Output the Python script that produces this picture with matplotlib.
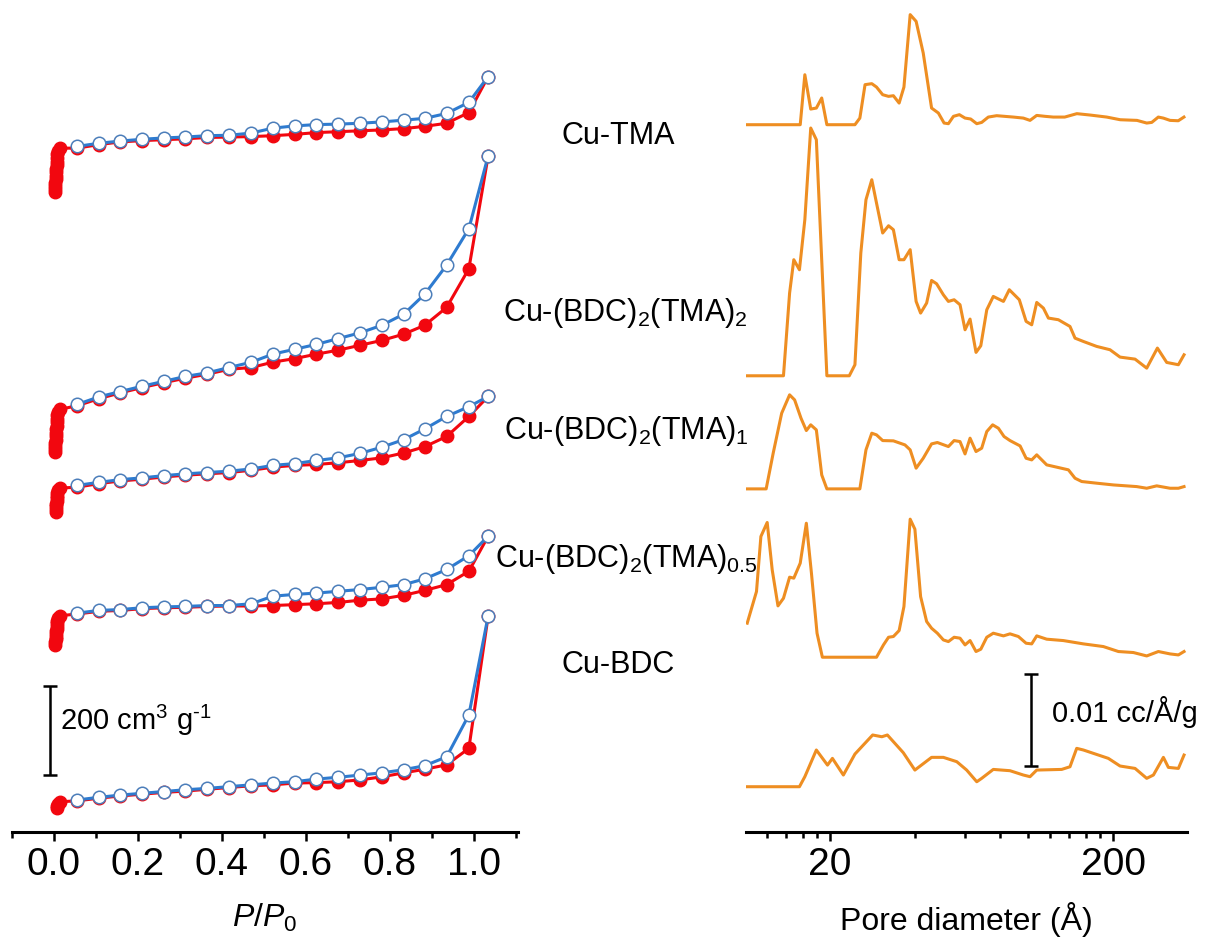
import matplotlib
matplotlib.use("Agg")
import matplotlib.pyplot as plt
from matplotlib.ticker import FixedLocator, NullFormatter

plt.rcParams['font.family'] = ['Liberation Sans', 'DejaVu Sans']
plt.rcParams['mathtext.fontset'] = 'custom'
plt.rcParams['mathtext.rm'] = 'Liberation Sans'
plt.rcParams['mathtext.it'] = 'Liberation Sans:italic'

# ---- N2 isotherms (cm3/g), adsorption red / desorption blue ----
p_low = [0.002, 0.0025, 0.003, 0.0035, 0.004, 0.0045, 0.005, 0.0055, 0.006, 0.0065,
         0.007, 0.008, 0.010, 0.014]
p_iso = [0.055, 0.107, 0.158, 0.210, 0.262, 0.313, 0.365, 0.417, 0.470, 0.521,
         0.573, 0.625, 0.677, 0.729, 0.781, 0.833, 0.883, 0.935, 0.988, 1.034]

tma_low = [0, 7, 14, 21, 29, 37, 45, 53, 61, 69, 77, 85, 92, 99]
tma_ads = [99, 107, 113, 116, 118, 120, 123, 124, 125, 127, 130, 134, 136, 138, 140, 143, 148, 155, 179, 260]
tma_des = [103, 110, 115, 119, 122, 124, 127, 128, 133, 144, 149, 152, 153, 155, 158, 162, 166, 177, 202, 260]
tma_off = 1438

tma2_low = [0, 7, 14, 21, 28, 36, 44, 52, 60, 68, 76, 84, 91, 97]
tma2_ads = [105, 121, 134, 146, 157, 167, 176, 187, 191, 203, 211, 221, 230, 241, 252, 266, 286, 326, 413, 667]
tma2_des = [108, 125, 137, 149, 160, 171, 179, 191, 203, 221, 232, 243, 256, 269, 286, 311, 356, 421, 503, 667]
tma2_off = 853

tma1_low = [0, 6, 12, 18, 24, 30, 36, 42, 48, 53]
tma1_ads = [55, 63, 69, 73, 78, 82, 85, 88, 93, 100, 104, 106, 110, 115, 121, 132, 146, 169, 214, 259]
tma1_des = [59, 66, 72, 76, 81, 85, 88, 91, 96, 104, 108, 115, 121, 131, 145, 162, 186, 214, 236, 259]
tma1_off = 720

tma05_low = [0, 6, 12, 18, 24, 30, 36, 42, 48, 54, 60, 65]
tma05_ads = [69, 75, 77, 81, 83, 84, 86, 87, 87, 88, 90, 92, 95, 100, 103, 111, 122, 135, 165, 244]
tma05_des = [71, 77, 79, 83, 85, 86, 88, 88, 92, 109, 113, 116, 120, 124, 129, 135, 148, 169, 200, 244]
tma05_off = 421

bdc_low = [0, 5, 10, 14]
bdc_ads = [16, 22, 27, 31, 35, 38, 42, 46, 50, 52, 56, 57, 59, 63, 70, 79, 87, 97, 134, 432]
bdc_des = [18, 24, 29, 33, 37, 41, 44, 48, 52, 56, 59, 65, 69, 74, 79, 86, 95, 115, 209, 432]
bdc_off = 54

# ---- pore size distributions (1e-3 cc/A/g) ----
tma_d = [10.2, 15.7, 16.3, 17.1, 17.9, 18.7, 19.5, 24.5, 25.5, 26.6, 28.1, 29.2, 30.7, 32.2, 33.5, 35.1, 36.5,
         38.4, 40.3, 42.7, 45.7, 48.3, 50.6, 52.4, 54.6, 57.3, 60.0, 62.8, 66.0, 68.7, 72.5, 77.6, 88.9, 96.4,
         101.8, 107.5, 115, 123, 135, 149, 166, 190, 212, 243, 263, 274, 289, 301, 318, 340, 356]
tma_psd = [0, 0, 5.43, 1.70, 1.81, 2.90, 0, 0, 0.72, 4.35, 4.46, 4.09, 3.26, 3.08, 3.15, 2.35, 4.09,
           11.96, 11.23, 7.79, 1.81, 1.27, 0.18, 0.11, 0.91, 1.09, 0.72, 0.62, 0.11, 0.25, 0.83, 0.98, 0.83, 0.72,
           0.47, 1.01, 0.91, 0.83, 0.83, 1.20, 1.05, 0.83, 0.54, 0.47, 0.18, 0.25, 0.83, 0.72, 0.47, 0.43, 0.83]
tma_psd_off = 76.85

tma2_d = [10.2, 13.7, 14.4, 14.9, 15.6, 16.3, 17.1, 17.9, 19.5, 23.4, 24.5, 25.7, 26.8, 28.1, 29.2, 30.7,
          32.2, 33.5, 35.1, 36.5, 38.4, 40.3, 41.8, 43.9, 45.7, 47.6, 50.3, 52.4, 54.9, 57.6, 60.0, 62.5,
          65.6, 68.2, 71.6, 75.5, 82.0, 86.0, 93.3, 98.6, 103.2, 107.5, 113.5, 118.2, 128.2, 140.9, 146.8,
          157.1, 175.1, 195.1, 211.7, 239.2, 263, 286.9, 309.5, 340.3, 356.3]
tma2_psd = [0, 0, 8.99, 12.61, 11.52, 16.96, 26.92, 25.65, 0, 0, 1.20, 13.33, 19.13, 21.30, 18.77, 15.51,
            16.30, 15.87, 12.61, 12.61, 13.70, 8.08, 6.81, 7.90, 10.36, 10.0, 8.80, 8.08, 8.26, 7.72, 5.0, 6.16,
            2.54, 3.26, 7.17, 8.62, 8.08, 9.35, 8.26, 5.91, 5.54, 7.97, 7.35, 6.27, 6.09, 5.36, 4.09,
            3.73, 3.19, 2.83, 2.03, 1.81, 0.83, 3.01, 1.45, 1.20, 2.28]
tma2_psd_off = 49.57

tma1_d = [10.2, 11.9, 12.6, 13.5, 14.4, 15.0, 15.8, 16.5, 17.1, 17.9, 18.7, 19.5, 25.5, 26.8, 28.1, 29.2,
          30.7, 33.5, 36.8, 38.4, 40.3, 42.7, 45.7, 47.9, 52.4, 54.9, 57.6, 60.0, 62.5, 65.6, 68.7, 71.6,
          75.1, 78.7, 82.4, 86.5, 93.9, 98.6, 103.2, 107.5, 116.6, 128.2, 139.1, 146.8, 155, 175.1, 200.6,
          242.5, 263, 285.3, 318, 340.3, 356.3]
tma1_psd = [0, 0, 3.88, 8.22, 10.22, 9.67, 7.68, 6.34, 6.96, 6.41, 1.52, 0, 0, 4.24, 6.05, 5.87,
            5.25, 5.22, 4.78, 4.24, 2.25, 3.33, 4.89, 5.04, 4.60, 5.25, 5.14, 3.80, 5.51, 4.06, 4.42, 6.23,
            6.96, 6.59, 5.69, 5.25, 4.67, 3.33, 3.15, 3.70, 2.61, 2.32, 2.07, 1.16, 0.80, 0.62, 0.43,
            0.25, 0.07, 0.33, 0.07, 0.07, 0.25]
tma1_psd_off = 37.28

tma05_d = [10.2, 11.0, 11.4, 12.0, 12.5, 13.1, 13.7, 14.4, 14.9, 15.7, 16.5, 17.2, 18.0, 18.8, 29.2, 30.9,
           32.2, 33.5, 35.1, 36.5, 38.4, 39.9, 41.8, 43.9, 45.7, 47.9, 50.3, 52.4, 54.9, 57.6, 60.0, 62.5,
           65.6, 68.2, 71.6, 75.5, 82.0, 86.5, 92.6, 98.6, 103.2, 107.5, 116.6, 133.5, 157.1, 184.8, 208.9,
           236, 263, 289.2, 318, 340.3, 356.3]
tma05_psd = [3.70, 7.14, 13.12, 14.64, 9.49, 5.58, 6.41, 8.70, 8.59, 10.22, 14.56, 9.13, 2.61, 0, 0, 1.34,
             2.17, 2.25, 2.90, 5.51, 15.0, 13.91, 6.59, 3.88, 3.15, 2.61, 1.88, 1.70, 2.17, 2.07, 1.34, 1.81,
             0.62, 0.87, 2.17, 2.61, 2.32, 2.54, 2.25, 1.52, 1.45, 2.32, 1.96, 1.81, 1.45, 1.16, 0.62,
             0.51, 0.14, 0.62, 0.36, 0.25, 0.62]
tma05_psd_off = 18.99

bdc_d = [10.2, 15.6, 16.3, 17.9, 19.6, 20.4, 22.3, 24.5, 28.3, 30.5, 31.9, 36.3, 39.9, 45.7, 50.3, 56.1,
         60.8, 66.0, 68.7, 75.5, 86.5, 96.4, 101.8, 107.5, 131.7, 140.9, 148.8, 157.1, 192.5, 211.7,
         239.2, 263, 277.7, 301.2, 313.7, 340.3, 356.3]
bdc_psd = [0, 0, 1.09, 3.99, 2.35, 3.08, 1.27, 3.55, 5.62, 5.43, 5.62, 3.70, 1.81, 3.19, 3.19, 2.72,
           1.81, 0.54, 0.91, 1.88, 1.74, 1.27, 1.09, 1.81, 1.88, 2.17, 4.17, 3.99, 3.08, 2.25,
           1.99, 0.91, 1.27, 3.19, 2.10, 1.99, 3.44]
bdc_psd_off = 4.92

sample_names = ['Cu-TMA', r'Cu-(BDC)$_2$(TMA)$_2$', r'Cu-(BDC)$_2$(TMA)$_1$',
                r'Cu-(BDC)$_2$(TMA)$_{0.5}$', 'Cu-BDC']

RED = '#F2070F'
BLUE = '#2E7BD0'
ORANGE = '#EE8E22'

W, H = 1211, 943
fig = plt.figure(figsize=(W / 100, H / 100), dpi=100)
ax1 = fig.add_axes([12 / W, 1 - 832 / H, 506 / W, 832 / H])
ax2 = fig.add_axes([746 / W, 1 - 832 / H, 441 / W, 832 / H])

isotherms = [(tma_low, tma_ads, tma_des, tma_off),
             (tma2_low, tma2_ads, tma2_des, tma2_off),
             (tma1_low, tma1_ads, tma1_des, tma1_off),
             (tma05_low, tma05_ads, tma05_des, tma05_off),
             (bdc_low, bdc_ads, bdc_des, bdc_off)]

for low, ads, des, off in isotherms:
    x_ads = p_low[-len(low):] + p_iso
    y_ads = [v + off for v in low + ads]
    ax1.plot(x_ads, y_ads, '-o', color=RED, lw=2.2, ms=9, mec=RED, zorder=2)
    ax1.plot(p_iso, [v + off for v in des], '-o', color=BLUE, lw=2.2, ms=9,
             mfc='white', mec='#4C7EBA', mew=1.1, zorder=3)

ax1.set_xlim(-0.1, 1.105)
ax1.set_ylim(0, 1870)
ax1.errorbar([-0.01], [228], yerr=[100], color='black', lw=1.8, capsize=5, capthick=1.8)
ax1.text(0.014, 229, r'200 cm$^3$ g$^{\text{-}1}$', fontsize=21, va='baseline', ha='left')

psd = [(tma_d, tma_psd, tma_psd_off),
       (tma2_d, tma2_psd, tma2_psd_off),
       (tma1_d, tma1_psd, tma1_psd_off),
       (tma05_d, tma05_psd, tma05_psd_off),
       (bdc_d, bdc_psd, bdc_psd_off)]
for d, v, off in psd:
    ax2.plot(d, [x + off for x in v], color=ORANGE, lw=2.2)

ax2.set_xscale('log')
ax2.set_xlim(10.1, 365)
ax2.set_ylim(0, 90.4)
ax2.errorbar([102.6], [12.2], yerr=[5], color='black', lw=1.8, capsize=5, capthick=1.8)
ax2.text(121.7, 11.96, u'0.01 cc/\u00c5/g', fontsize=21, va='baseline', ha='left')

for ax in (ax1, ax2):
    ax.patch.set_visible(False)
    for s in ('top', 'left', 'right'):
        ax.spines[s].set_visible(False)
    ax.spines['bottom'].set_linewidth(2.2)
    ax.set_yticks([])
    ax.tick_params(axis='x', which='major', direction='out', length=6.5, width=1.8,
                   labelsize=28, pad=4)
    ax.tick_params(axis='x', which='minor', direction='out', length=4, width=1.8)

ax1.set_xticks([0.0, 0.2, 0.4, 0.6, 0.8, 1.0])
ax1.set_xticklabels(['0.0', '0.2', '0.4', '0.6', '0.8', '1.0'])
ax1.xaxis.set_minor_locator(FixedLocator([-0.1, 0.1, 0.3, 0.5, 0.7, 0.9, 1.1]))
ax1.set_xlabel(r'$\mathit{P/P_0}$', fontsize=23, labelpad=14)

ax2.xaxis.set_major_locator(FixedLocator([20, 200]))
ax2.set_xticklabels(['20', '200'])
ax2.xaxis.set_minor_locator(FixedLocator([10, 12, 14, 16, 18, 40, 60, 80, 100, 120, 140, 160, 180]))
ax2.xaxis.set_minor_formatter(NullFormatter())
ax2.set_xlabel(u'Pore diameter (\u00c5)', fontsize=23, labelpad=14)

label_pos = [(618, 144), (625, 321), (626, 439), (626, 567), (618, 673)]
for name, (x, y) in zip(sample_names, label_pos):
    fig.text(x / W, 1 - y / H, name, fontsize=22, ha='center', va='baseline')

fig.savefig('out.png', dpi=100)
